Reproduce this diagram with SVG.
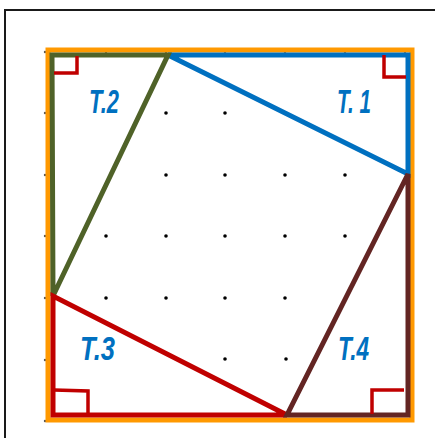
<svg xmlns="http://www.w3.org/2000/svg" width="435" height="438" viewBox="0 0 435 438">
<style>
.dot{fill:#000}
.edge{fill:#555}
.tri{fill:#fff;stroke-width:5;stroke-linejoin:miter}
.ra{fill:none;stroke:#C00000;stroke-width:3.5}
.lbl{font-family:"Liberation Sans",Arial,sans-serif;font-weight:bold;font-style:italic;font-size:34px;fill:#0070C0}
</style>
<rect width="435" height="438" fill="#fff"/>
<rect x="5" y="10" width="440" height="440" fill="none" stroke="#1a1a1a" stroke-width="2"/>
<g id="grid">
<g class="edge">
<circle cx="45" cy="52" r="1.2"/><circle cx="106" cy="52" r="1.2"/><circle cx="166" cy="52" r="1.2"/><circle cx="225" cy="52" r="1.2"/><circle cx="285" cy="52" r="1.2"/><circle cx="345" cy="52" r="1.2"/><circle cx="405" cy="52" r="1.2"/>
<circle cx="45" cy="113" r="1.2"/><circle cx="45" cy="175" r="1.2"/><circle cx="45" cy="236" r="1.2"/><circle cx="45" cy="298" r="1.2"/><circle cx="45" cy="360" r="1.2"/><circle cx="45" cy="421" r="1.2"/>
</g>
<g class="dot">
<circle cx="166" cy="113" r="1.8"/><circle cx="225" cy="113" r="1.8"/>
<circle cx="106" cy="175" r="1.8"/><circle cx="166" cy="175" r="1.8"/><circle cx="225" cy="175" r="1.8"/><circle cx="285" cy="175" r="1.8"/><circle cx="345" cy="175" r="1.8"/>
<circle cx="106" cy="236" r="1.8"/><circle cx="166" cy="236" r="1.8"/><circle cx="225" cy="236" r="1.8"/><circle cx="285" cy="236" r="1.8"/><circle cx="345" cy="236" r="1.8"/>
<circle cx="106" cy="298" r="1.8"/><circle cx="166" cy="298" r="1.8"/><circle cx="225" cy="298" r="1.8"/><circle cx="285" cy="298" r="1.8"/>
<circle cx="165" cy="359" r="1.8"/><circle cx="225" cy="359" r="1.8"/><circle cx="286" cy="359" r="1.8"/>
</g>
</g>
<g id="square">
<rect x="48" y="50" width="364" height="370" fill="none" stroke="#FF9900" stroke-width="5"/>
</g>
<g id="T1">
<polygon class="tri" points="168,55 408,55 408,174" stroke="#0070C0"/>
<polyline class="ra" points="384,55 384,77 406,77"/>
<text class="lbl" x="337" y="113" textLength="34" lengthAdjust="spacingAndGlyphs">T. 1</text>
</g>
<g id="T2">
<polygon class="tri" points="52,55 168,55 53,296" stroke="#4F6228"/>
<polyline class="ra" points="77,56 77,73 54,73"/>
<text class="lbl" x="89" y="113" textLength="30" lengthAdjust="spacingAndGlyphs">T.2</text>
</g>
<g id="T3">
<polygon class="tri" points="53,296 53,415 287,415" stroke="#C00000"/>
<polyline class="ra" points="54,390 88,391 88,414"/>
<text class="lbl" x="80" y="360" textLength="35" lengthAdjust="spacingAndGlyphs">T.3</text>
</g>
<g id="T4">
<polygon class="tri" points="287,415 408,415 408,174" stroke="#632523"/>
<polyline class="ra" points="372,414 372,390 404,390"/>
<text class="lbl" x="338" y="360" textLength="31" lengthAdjust="spacingAndGlyphs">T.4</text>
</g>
<g id="connectors"/>
</svg>
